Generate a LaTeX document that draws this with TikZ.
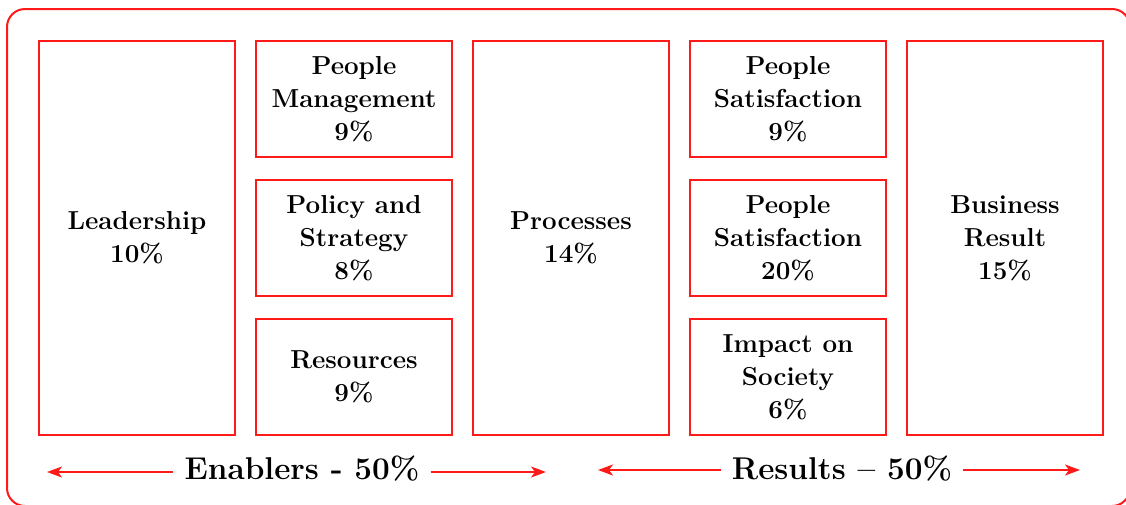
\documentclass[tikz,border=0pt]{standalone}
\usetikzlibrary{arrows.meta, positioning}
\definecolor{framered}{HTML}{FF1A1A}
\newcommand{\cellfont}{\fontsize{26}{33}\selectfont\bfseries}
\newcommand{\groupfont}{\fontsize{31.5}{36}\selectfont\bfseries}
\tikzset{
  cell/.style={rectangle, draw=framered, line width=1.6pt,
               minimum width=196.4pt, minimum height=116.4pt,
               align=center, font=\cellfont},
  tallcell/.style={cell, minimum height=394.4pt},
  group/.style={font=\groupfont, inner xsep=11pt, inner ysep=0pt},
  arrow/.style={-{Stealth[length=15pt, width=11pt, inset=4pt]},
                line width=1.5pt, draw=framered},
}

\begin{document}
\begin{tikzpicture}[x=1pt, y=-1pt, node distance=21pt and 19pt]
  \useasboundingbox (0,0) rectangle (1126,504);

  %% ── OUTER FRAME ─────────────────────────────────────────────────────────
  \draw[framered, line width=2pt, rounded corners=18pt] (7,9) rectangle (1130,506);

  %% ── ENABLERS (three columns, left) ──────────────────────────────────────
  \node[tallcell, anchor=north west] (lead) at (38,40) {Leadership\\10\%};
  \node[cell, right=of lead.north east, anchor=north west] (peopm) {People\\Management\\9\%};
  \node[cell, below=of peopm]  (policy) {Policy and\\Strategy\\8\%};
  \node[cell, below=of policy] (rsrc)   {Resources\\9\%};
  \node[tallcell, right=of peopm.north east, anchor=north west] (proc) {Processes\\14\%};

  %% ── RESULTS (two columns, right) ────────────────────────────────────────
  \node[cell, right=of proc.north east, anchor=north west] (peops) {People\\Satisfaction\\9\%};
  \node[cell, below=of peops] (custs)   {People\\Satisfaction\\20\%};
  \node[cell, below=of custs] (society) {Impact on\\Society\\6\%};
  \node[tallcell, right=of peops.north east, anchor=north west] (business) {Business\\Result\\15\%};

  %% ── GROUP LABELS ────────────────────────────────────────────────────────
  \node[group, anchor=base] (enablers) at (302,479) {Enablers - 50\%};
  \node[group, anchor=base] (results)  at (842,479) {Results -- 50\%};

  \coordinate (enabL) at (47,472);
  \coordinate (enabR) at (546,472);
  \coordinate (resL)  at (598,470);
  \coordinate (resR)  at (1080,470);

  %% ── SPAN ARROWS ─────────────────────────────────────────────────────────
  \foreach \a/\b in {enablers.west/enabL, enablers.east/enabR,
                     results.west/resL, results.east/resR}{
    \draw[arrow] (\a |- \b) -- (\b);
  }

\end{tikzpicture}
\end{document}
